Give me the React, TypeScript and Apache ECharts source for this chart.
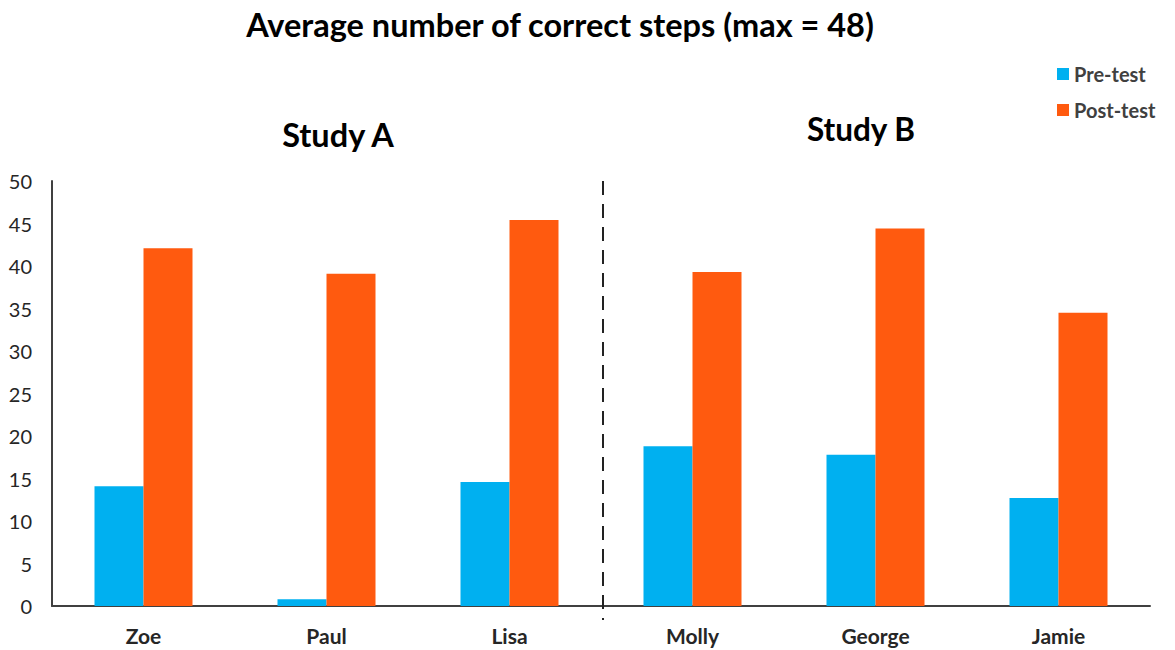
import React, { useEffect, useRef } from "react";
import * as echarts from "echarts";

const categories = ["Zoe", "Paul", "Lisa", "Molly", "George", "Jamie"];
const preTest = [14.1, 0.8, 14.6, 18.8, 17.8, 12.7];
const postTest = [42.1, 39.1, 45.4, 39.3, 44.4, 34.5];
const yTicks = { min: 0, max: 50, interval: 5 };

const FONT = "Lato, 'Open Sans', sans-serif";
const TEXT = "#262626";

export default function App() {
  const ref = useRef<HTMLDivElement>(null);
  useEffect(() => {
    if (!ref.current) return;
    const chart = echarts.init(ref.current, null, { renderer: "svg" });
    chart.setOption({
      animation: false,
      backgroundColor: "#ffffff",
      title: [
        {
          text: "Average number of correct steps (max = 48)",
          left: 555,
          top: 3,
          textAlign: "center",
          textStyle: { fontFamily: FONT, fontWeight: "bold", fontSize: 32.5, color: "#000" },
        },
        {
          text: "Study A",
          left: 333,
          top: 113,
          textAlign: "center",
          textStyle: { fontFamily: FONT, fontWeight: "bold", fontSize: 32.5, color: "#000" },
        },
        {
          text: "Study B",
          left: 856,
          top: 108,
          textAlign: "center",
          textStyle: { fontFamily: FONT, fontWeight: "bold", fontSize: 31.5, color: "#000" },
        },
      ],
      legend: {
        orient: "vertical",
        left: 1052,
        top: 59,
        itemWidth: 12,
        itemHeight: 12,
        itemGap: 16,
        icon: "rect",
        textStyle: { fontFamily: FONT, fontWeight: "bold", fontSize: 20, color: "#404040" },
        data: ["Pre-test", "Post-test"],
      },
      grid: { left: 52, right: 25, top: 181, bottom: 44, containLabel: false },
      xAxis: {
        type: "category",
        data: categories,
        axisLine: { lineStyle: { color: "#404040", width: 2 } },
        axisTick: { show: false },
        axisLabel: { fontFamily: FONT, fontWeight: "bold", fontSize: 21, color: TEXT, margin: 19 },
      },
      yAxis: {
        type: "value",
        min: yTicks.min,
        max: yTicks.max,
        interval: yTicks.interval,
        axisLine: { show: true, lineStyle: { color: "#404040", width: 2 } },
        axisTick: { show: false },
        splitLine: { show: false },
        axisLabel: { fontFamily: FONT, fontSize: 20, color: TEXT, margin: 20 },
      },
      series: [
        {
          name: "Pre-test",
          type: "bar",
          data: preTest,
          barWidth: 49,
          barGap: "0%",
          itemStyle: { color: "#00B0F0" },
        },
        {
          name: "Post-test",
          type: "bar",
          data: postTest,
          barWidth: 49,
          barGap: "0%",
          itemStyle: { color: "#FF5A0F" },
        },
      ],
    });
    const a = chart.convertToPixel({ gridIndex: 0 }, [2, 50]) as number[];
    const b = chart.convertToPixel({ gridIndex: 0 }, [3, 0]) as number[];
    const xMid = (a[0] + b[0]) / 2 + 2;
    chart.setOption({
      graphic: [
        {
          type: "line",
          shape: { x1: xMid, y1: a[1], x2: xMid, y2: b[1] + 14 },
          style: { stroke: "#222", lineWidth: 2, lineDash: [14, 9] },
          z: 10,
        },
      ],
    });
    return () => chart.dispose();
  }, []);
  return <div ref={ref} style={{ width: 1175, height: 650, position: "absolute", left: 0, top: 0 }} />;
}
